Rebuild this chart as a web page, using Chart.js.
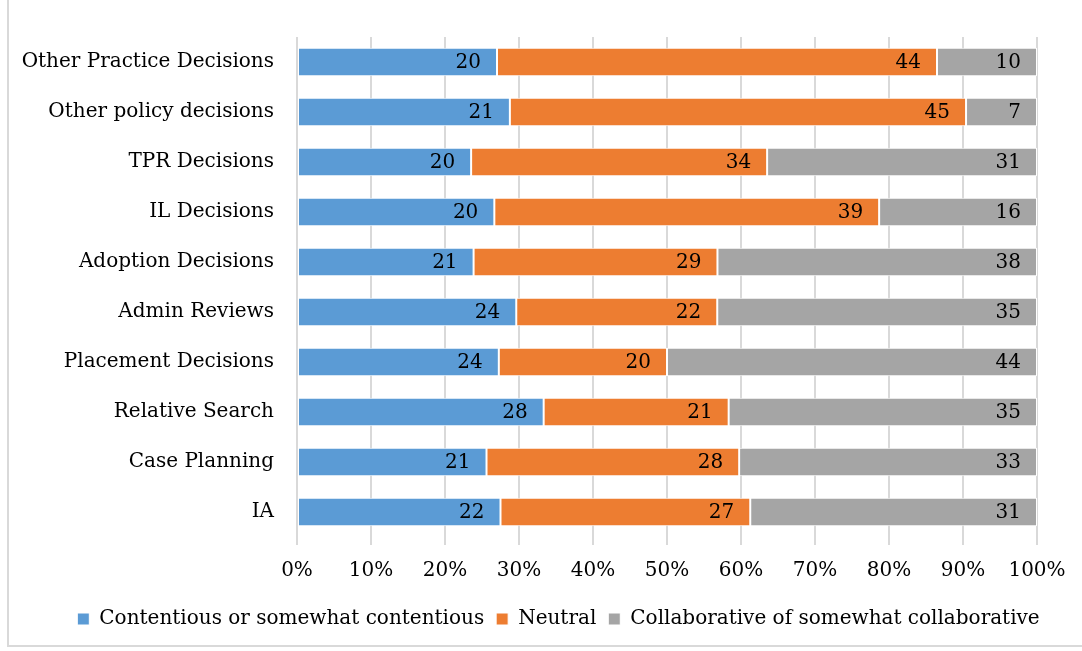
<!DOCTYPE html>
<html>
<head>
<meta charset="utf-8">
<script src="https://cdn.jsdelivr.net/npm/chart.js@4/dist/chart.umd.min.js"></script>
<style>
  html, body { margin: 0; padding: 0; background: #fff; }
  #wrap { position: relative; width: 1082px; height: 651px; }
  #frame { position: absolute; left: 7px; top: -2px; width: 1090px; height: 649px;
           border-left: 2px solid #d9d9d9; border-bottom: 2px solid #d9d9d9; box-sizing: border-box; }
  canvas { position: absolute; left: 0; top: 0; }
</style>
</head>
<body>
<div id="wrap">
  <div id="frame"></div>
  <canvas id="chart" width="1082" height="651"></canvas>
</div>
<script>
const categories = ['Other Practice Decisions', 'Other policy decisions', 'TPR Decisions', 'IL Decisions',
  'Adoption Decisions', 'Admin Reviews', 'Placement Decisions', 'Relative Search', 'Case Planning', 'IA'];
const contentious = [20, 21, 20, 20, 21, 24, 24, 28, 21, 22];
const neutral = [44, 45, 34, 39, 29, 22, 20, 21, 28, 27];
const collaborative = [10, 7, 31, 16, 38, 35, 44, 35, 33, 31];
const seriesNames = ['Contentious or somewhat contentious', 'Neutral', 'Collaborative of somewhat collaborative'];
const tickLabels = ['0%', '10%', '20%', '30%', '40%', '50%', '60%', '70%', '80%', '90%', '100%'];

const totals = categories.map((c, i) => contentious[i] + neutral[i] + collaborative[i]);
const pct = arr => arr.map((v, i) => v / totals[i] * 100);
const counts = [contentious, neutral, collaborative];

const FONT = "'DejaVu Serif', serif";

// draws the count at the right end of each segment
const countLabels = {
  id: 'countLabels',
  afterDatasetsDraw(chart) {
    const ctx = chart.ctx;
    ctx.save();
    ctx.font = '20px ' + FONT;
    ctx.fillStyle = '#000';
    ctx.textAlign = 'right';
    ctx.textBaseline = 'middle';
    chart.data.datasets.forEach((ds, di) => {
      chart.getDatasetMeta(di).data.forEach((bar, i) => {
        ctx.fillText(String(counts[di][i]), bar.x - 16, bar.y + 1);
      });
    });
    ctx.restore();
  }
};

// legend sits a bit right of the canvas centre in the original
const shiftLegend = {
  id: 'shiftLegend',
  afterLayout(chart) {
    chart.legend.left += 40;
    chart.legend.right += 40;
  }
};

new Chart(document.getElementById('chart'), {
  type: 'bar',
  data: {
    labels: categories,
    datasets: [
      { label: seriesNames[0], data: pct(contentious), backgroundColor: '#5b9bd5' },
      { label: seriesNames[1], data: pct(neutral), backgroundColor: '#ed7d31' },
      { label: seriesNames[2], data: pct(collaborative), backgroundColor: '#a5a5a5' }
    ].map(d => Object.assign(d, {
      borderColor: '#ffffff', borderWidth: 1, borderSkipped: false,
      barPercentage: 0.57, categoryPercentage: 1
    }))
  },
  options: {
    indexAxis: 'y',
    responsive: false,
    animation: false,
    layout: { padding: { top: 37, right: 45, left: 0, bottom: 12 } },
    scales: {
      x: {
        stacked: true, min: 0, max: 100,
        border: { display: false },
        grid: { color: '#d9d9d9', lineWidth: 2, tickLength: 8, drawTicks: true },
        ticks: {
          stepSize: 10, color: '#000', padding: 14,
          font: { family: FONT, size: 20 },
          callback: (v, i) => tickLabels[i]
        }
      },
      y: {
        stacked: true,
        border: { display: false },
        grid: { display: false },
        ticks: { color: '#000', padding: 15, font: { family: FONT, size: 20 } },
        afterFit(scale) { scale.width = 297; }
      }
    },
    plugins: {
      legend: {
        position: 'bottom',
        labels: {
          color: '#000', boxWidth: 12, boxHeight: 12, padding: 12,
          font: { family: FONT, size: 20 }
        }
      },
      tooltip: { enabled: false }
    }
  },
  plugins: [countLabels, shiftLegend]
});
</script>
</body>
</html>
